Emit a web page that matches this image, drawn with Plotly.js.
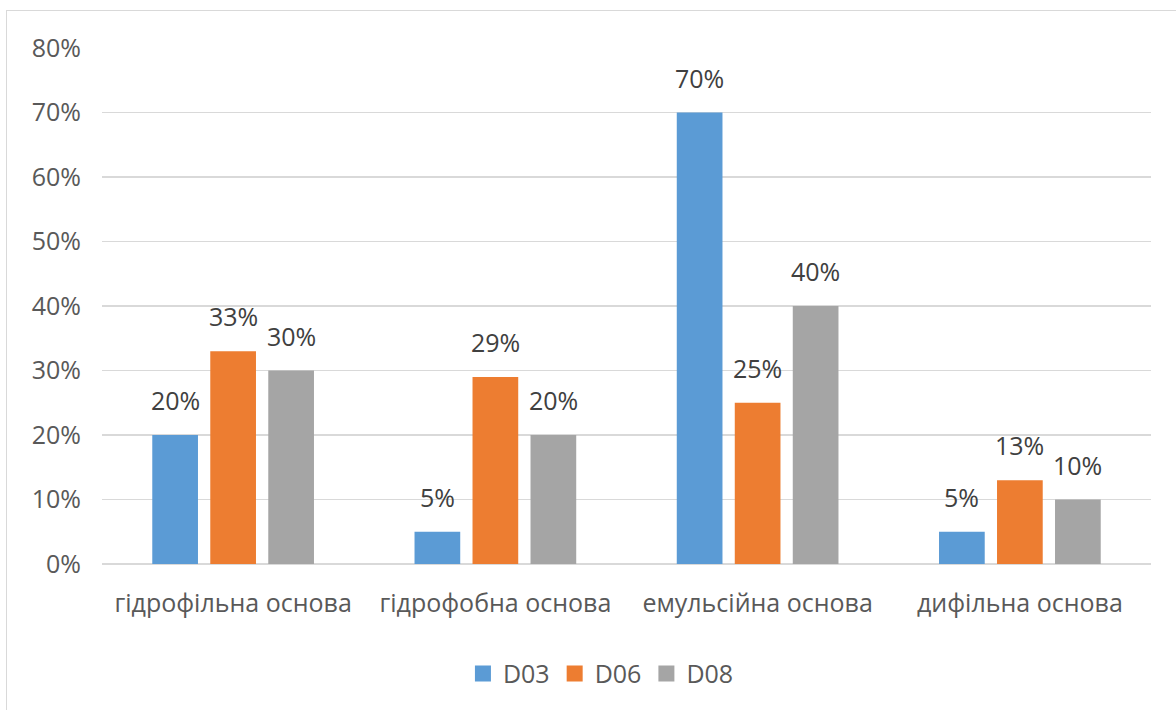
<!DOCTYPE html>
<html>
<head>
<meta charset="utf-8">
<script src="https://cdn.plot.ly/plotly-3.0.1.min.js"></script>
<style>
html,body{margin:0;padding:0;background:#fff;}
#wrap{position:relative;width:1176px;height:710px;overflow:hidden;}
#frame{position:absolute;left:6px;top:10px;width:1300px;height:900px;border:1.5px solid #d9d9d9;pointer-events:none;}
#chart{position:absolute;left:0;top:0;width:1176px;height:710px;}
</style>
</head>
<body>
<div id="wrap"><div id="chart"></div><div id="frame"></div></div>
<script>
const categories = ["гідрофільна основа", "гідрофобна основа", "емульсійна основа", "дифільна основа"];
const seriesNames = ["D03", "D06", "D08"];
const D03 = [0.20, 0.05, 0.70, 0.05];
const D06 = [0.33, 0.29, 0.25, 0.13];
const D08 = [0.30, 0.20, 0.40, 0.10];
const colors = ["#5b9bd5", "#ed7d31", "#a5a5a5"];
const yTicks = [0, 0.1, 0.2, 0.3, 0.4, 0.5, 0.6, 0.7, 0.8];

const FONT = "Open Sans, sans-serif";
const FS = 25;
const series = [D03, D06, D08];

const plotW = 1176 - 102 - 25;
const catW = plotW / categories.length;
const bargap = 0.3365;
const slot = (1 - bargap) * catW / series.length;

const traces = series.map((vals, i) => ({
  type: 'bar', x: categories, y: vals, name: seriesNames[i],
  marker: {color: colors[i]}, showlegend: false, hoverinfo: 'skip'
}));
seriesNames.forEach((n, i) => traces.push({
  type: 'scatter', mode: 'markers', x: [null], y: [null], name: n,
  marker: {symbol: 'square', size: 20, color: colors[i]}, showlegend: true
}));

const annotations = [];
series.forEach((vals, i) => vals.forEach((v, j) => annotations.push({
  x: categories[j], y: v, xref: 'x', yref: 'y',
  xshift: (i - 1) * slot, yshift: 35, yanchor: 'middle', xanchor: 'center',
  text: Math.round(v * 100) + '%', showarrow: false,
  font: {family: FONT, size: FS, color: '#404040'}
})));

const layout = {
  width: 1176, height: 710,
  margin: {l: 102, r: 25, t: 48, b: 146, autoexpand: false},
  paper_bgcolor: 'rgba(0,0,0,0)', plot_bgcolor: 'rgba(0,0,0,0)',
  barmode: 'group', bargap: bargap, bargroupgap: 0.212,
  font: {family: FONT, color: '#595959', size: FS},
  xaxis: {type: 'category', showgrid: false, showline: false, zeroline: false, automargin: false,
    ticks: '', ticklabelstandoff: 22, tickfont: {family: FONT, size: FS, color: '#595959'}},
  yaxis: {range: [0, 0.8], tickvals: yTicks, tickformat: '.0%', showgrid: true, automargin: false,
    gridcolor: '#d9d9d9', gridwidth: 1.5, zeroline: true, zerolinecolor: '#d9d9d9', zerolinewidth: 1.5,
    showline: false, ticks: '', ticklabelstandoff: 20, tickfont: {family: FONT, size: FS, color: '#595959'}},
  legend: {orientation: 'h', xref: 'container', yref: 'container', x: 0.511, xanchor: 'center',
    y: 0.051, yanchor: 'middle',
    font: {family: FONT, size: FS, color: '#595959'}, itemwidth: 30},
  annotations: annotations
};

Plotly.newPlot('chart', traces, layout, {displayModeBar: false, staticPlot: true});
</script>
</body>
</html>
